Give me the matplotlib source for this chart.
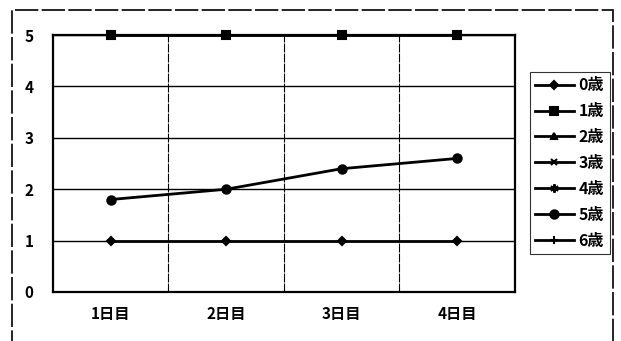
import numpy as np
import matplotlib
matplotlib.use("Agg")
import matplotlib.pyplot as plt
from matplotlib.patches import Rectangle

plt.rcParams['font.family'] = ['Noto Sans CJK JP', 'DejaVu Sans']

categories = ["1日目", "2日目", "3日目", "4日目"]
series_names = ["0歳", "1歳", "2歳", "3歳", "4歳", "5歳", "6歳"]
s0 = [1, 1, 1, 1]
s1 = [5, 5, 5, 5]
s2 = [np.nan, np.nan, np.nan, np.nan]
s3 = [np.nan, np.nan, np.nan, np.nan]
s4 = [np.nan, np.nan, np.nan, np.nan]
s5 = [1.8, 2.0, 2.4, 2.6]
s6 = [np.nan, np.nan, np.nan, np.nan]
yticks = [0, 1, 2, 3, 4, 5]

values = [s0, s1, s2, s3, s4, s5, s6]
markers = ['D', 's', '^', 'x', (6, 2, 0), 'o', '+']
msizes = [4.5, 5.5, 5, 5, 6, 6, 6]

fig = plt.figure(figsize=(6.21, 3.41), dpi=100)
ax = fig.add_axes([0.0853, 0.1437, 0.829 - 0.0853, 0.897 - 0.1437])

x = np.arange(len(categories))
for name, v, m, ms in zip(series_names, values, markers, msizes):
    ax.plot(x, v, color='black', lw=2, marker=m, ms=ms, mew=1.5, label=name,
            zorder=3, clip_on=False)

ax.set_xlim(-0.5, len(categories) - 0.5)
ax.set_ylim(0, 5)
ax.set_yticks(yticks)
ax.set_yticklabels([str(t) for t in yticks], fontsize=11, fontweight='bold')
ax.set_xticks(x)
ax.set_xticklabels(categories, fontsize=11, fontweight='bold')
ax.tick_params(axis='x', length=0, pad=10)
ax.tick_params(axis='y', length=0, pad=14)

# gridlines: horizontal at values, vertical at category boundaries
for yv in yticks[1:]:
    ax.axhline(yv, color='black', lw=1, zorder=1)
for b in np.arange(0.5, len(categories) - 1, 1.0):
    ax.axvline(b, color='black', lw=0.8, zorder=1, ls=(0, (8, 1)))

for sp in ax.spines.values():
    sp.set_color('black')
    sp.set_linewidth(1.6)

leg = fig.legend(loc='upper left', bbox_to_anchor=(0.853, 0.79), frameon=True,
                 fancybox=False, edgecolor='black',
                 prop={'weight': 'bold', 'size': 11.5}, handlelength=2.4,
                 handletextpad=0.3, labelspacing=0.62, borderpad=0.35,
                 borderaxespad=0)
leg.get_frame().set_linewidth(0.8)

# outer chart frame
fig.patches.append(Rectangle((12 / 621, -0.05), (613 - 12) / 621, 1.05 - 10 / 341,
                             transform=fig.transFigure, fill=False,
                             edgecolor='black', lw=1.2, ls=(0, (14, 2))))

fig.savefig('out.png', dpi=100)
